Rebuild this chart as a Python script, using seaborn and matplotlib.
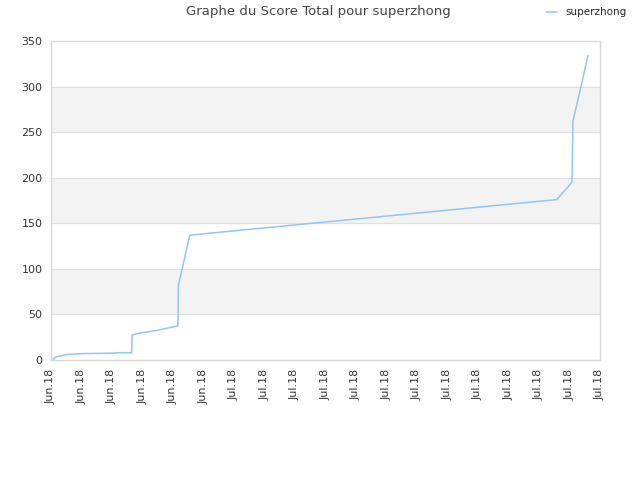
import pandas as pd
import numpy as np
import matplotlib
matplotlib.use('Agg')
import matplotlib.pyplot as plt
import matplotlib.dates as mdates
import seaborn as sns

# Data
dates = ['2018-06-17 04:00', '2018-06-17 08:00', '2018-06-17 19:00', '2018-06-18 05:00',
         '2018-06-19 13:00', '2018-06-22 03:00', '2018-06-22 05:00', '2018-06-23 11:00',
         '2018-06-23 12:00', '2018-06-24 03:00', '2018-06-25 12:00', '2018-06-27 04:00',
         '2018-06-27 05:00', '2018-06-28 03:00', '2018-07-27 13:00', '2018-07-28 18:00',
         '2018-07-28 20:00', '2018-07-30 01:00']
scores = [1, 3, 4.5, 6, 7, 7.5, 8, 8, 27.5, 29.5, 32.5, 37.5, 82, 137, 176, 195, 262, 334]
player = 'superzhong'

df = pd.DataFrame({'date': pd.to_datetime(dates), 'score': scores})

sns.set_style('white')
plt.rcParams['font.family'] = ['DejaVu Sans']

fig = plt.figure(figsize=(6.4, 4.8), dpi=100)
ax = fig.add_axes([0.0797, 0.25, 0.8578, 0.6646])

# Alternating bands + grid
for lo in [50, 150, 250]:
    ax.axhspan(lo, lo + 50, color='#f3f3f3', zorder=0)
for y in range(50, 351, 50):
    ax.axhline(y, color='#e0e0e0', lw=0.8, zorder=1)

sns.lineplot(data=df, x='date', y='score', ax=ax, color='#92c5f2', lw=1.1,
             label=player, legend=False, zorder=3)

start = pd.Timestamp('2018-06-17')
end = pd.Timestamp('2018-07-31')
ax.set_xlim(start, end)
ax.set_ylim(0, 350)
ticks = np.linspace(mdates.date2num(start), mdates.date2num(end), 19)
ax.set_xticks(ticks)
ax.xaxis.set_major_formatter(mdates.DateFormatter('%b.%y'))
ax.set_yticks(range(0, 351, 50))
ax.tick_params(axis='x', rotation=90, labelsize=8, colors='#333333', length=0, pad=6)
ax.tick_params(axis='y', labelsize=8, colors='#333333', length=0, pad=6)
ax.set_xlabel('')
ax.set_ylabel('')
for s in ax.spines.values():
    s.set_color('#d8d8d8')
    s.set_linewidth(1)

fig.text(0.497, 0.975, 'Graphe du Score Total pour superzhong', ha='center', va='center',
         fontsize=9.5, color='#444444')
fig.legend(loc='upper right', bbox_to_anchor=(0.99, 1.0), frameon=False, fontsize=7.5,
           handlelength=1.0, handletextpad=0.8, borderaxespad=0.3)

fig.savefig('out.png', dpi=100)
